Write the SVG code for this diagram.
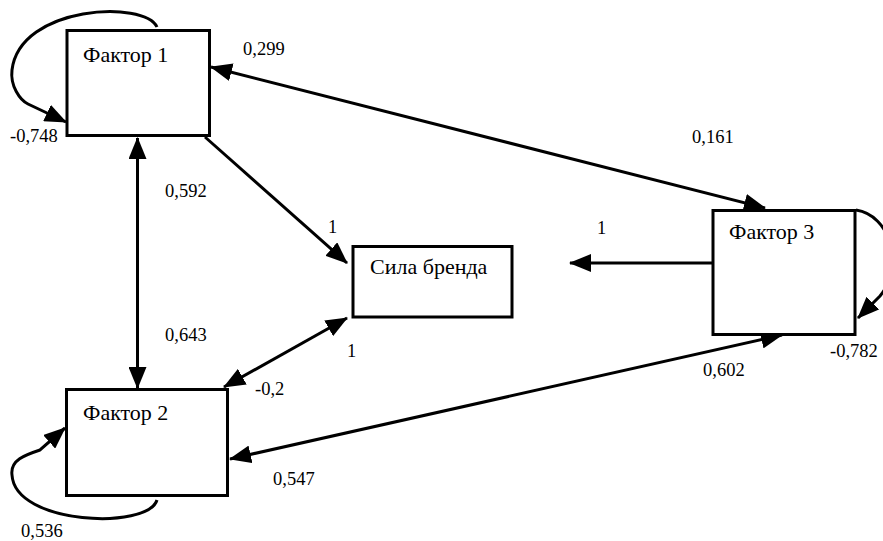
<svg xmlns="http://www.w3.org/2000/svg" width="883" height="541" viewBox="0 0 883 541">
<style>
.box{fill:#fff;stroke:#000;stroke-width:3}
.ln{fill:none;stroke:#000;stroke-width:3}
.nt{font-family:"Liberation Serif","Times New Roman",serif;font-size:22px;fill:#000}
.lb{font-family:"Liberation Serif","Times New Roman",serif;font-size:18.5px;fill:#000}
</style>
<defs>
<marker id="ah" markerUnits="userSpaceOnUse" markerWidth="22" markerHeight="18" refX="21" refY="9" orient="auto-start-reverse">
<path d="M0,0 L22,9 L0,18 z" fill="#000"/>
</marker>
</defs>
<rect width="883" height="541" fill="#fff"/>
<g id="connectors">
<line class="ln" x1="211" y1="67" x2="765" y2="208" marker-start="url(#ah)" marker-end="url(#ah)"/>
<line class="ln" x1="205" y1="137" x2="347" y2="263" marker-end="url(#ah)"/>
<line class="ln" x1="712" y1="263" x2="570" y2="263" marker-end="url(#ah)"/>
<line class="ln" x1="137.5" y1="138" x2="137.5" y2="388" marker-start="url(#ah)" marker-end="url(#ah)"/>
<line class="ln" x1="347" y1="318" x2="224" y2="387" marker-start="url(#ah)" marker-end="url(#ah)"/>
<line class="ln" x1="782" y1="335" x2="230" y2="459" marker-start="url(#ah)" marker-end="url(#ah)"/>
<path class="ln" d="M157,27 C145,0 20,5 12,70 C10,86 20,100 28,104 L66,122" marker-end="url(#ah)"/>
<path class="ln" d="M157,500 C148,530 15,525 12,475 C10,460 25,455 40,450 L65,428" marker-end="url(#ah)"/>
<path class="ln" d="M856,210 C890,215 905,265 880,296 L858,318" marker-end="url(#ah)"/>
</g>
<g id="factor1">
<rect class="box" x="67" y="30.5" width="142.5" height="105"/>
<text class="nt" x="83" y="62">Фактор 1</text>
</g>
<g id="factor2">
<rect class="box" x="66.5" y="389.5" width="161" height="106"/>
<text class="nt" x="83" y="420">Фактор 2</text>
</g>
<g id="factor3">
<rect class="box" x="713" y="210.5" width="142" height="124"/>
<text class="nt" x="729" y="239">Фактор 3</text>
</g>
<g id="brand">
<rect class="box" x="353" y="246.5" width="159" height="70.5"/>
<text class="nt" x="370" y="274">Сила бренда</text>
</g>
<g id="labels">
<text class="lb" x="243" y="55">0,299</text>
<text class="lb" x="10" y="142">-0,748</text>
<text class="lb" x="692" y="143">0,161</text>
<text class="lb" x="165" y="197">0,592</text>
<text class="lb" x="328" y="233">1</text>
<text class="lb" x="597" y="234">1</text>
<text class="lb" x="165" y="341">0,643</text>
<text class="lb" x="347" y="357">1</text>
<text class="lb" x="255" y="395">-0,2</text>
<text class="lb" x="830" y="357">-0,782</text>
<text class="lb" x="703" y="376">0,602</text>
<text class="lb" x="273" y="485">0,547</text>
<text class="lb" x="21" y="537">0,536</text>
</g>
</svg>
